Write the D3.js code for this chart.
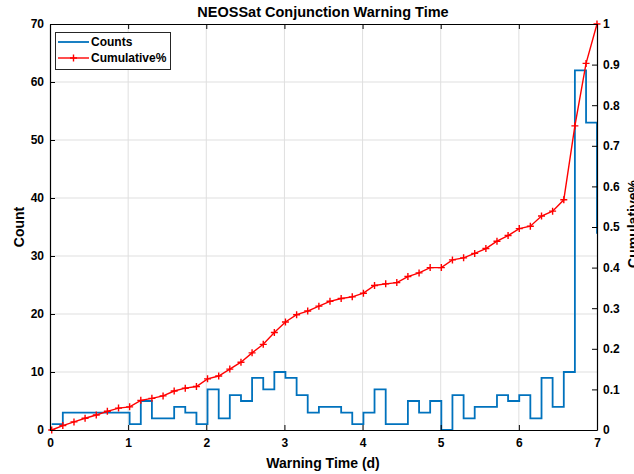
<!DOCTYPE html>
<html>
<head>
<meta charset="utf-8">
<script src="https://cdn.jsdelivr.net/npm/d3@7"></script>
<style>
  html, body { margin: 0; padding: 0; background: #fff; overflow: hidden; }
  svg { display: block; font-family: "Liberation Sans", Arial, sans-serif; }
</style>
</head>
<body>
<svg id="chart" width="634" height="474"></svg>
<script>
// ---- data ----
const title = "NEOSSat Conjunction Warning Time";
const xLabel = "Warning Time (d)";
const yLabelLeft = "Count";
const yLabelRight = "Cumulative%";
const seriesNames = ["Counts", "Cumulative%"];

// histogram bin edges (days)
const binEdges = [0.022,0.164,0.307,0.449,0.592,0.734,0.877,1.019,1.162,1.304,
                  1.447,1.589,1.731,1.874,2.016,2.159,2.301,2.444,2.586,2.729,
                  2.871,3.013,3.156,3.298,3.441,3.583,3.726,3.868,4.011,4.153,
                  4.296,4.438,4.580,4.723,4.865,5.008,5.150,5.293,5.435,5.578,
                  5.720,5.862,6.005,6.147,6.290,6.432,6.575,6.717,6.860,7.000,7.142];
// counts per bin (last bin lies beyond the axis and is clipped)
const counts = [1,3,3,3,3,3,3,1,5,2,2,4,3,1,7,2,6,5,9,7,10,9,6,3,4,4,3,1,3,7,
                1,1,5,3,5,0,6,2,4,4,6,5,6,2,9,4,10,62,53,34];
// cumulative fraction at each bin edge
const cumulative = [0.000,0.011,0.020,0.029,0.037,0.046,0.054,0.057,0.073,0.078,
                    0.084,0.096,0.103,0.107,0.126,0.133,0.150,0.167,0.190,0.211,
                    0.240,0.266,0.284,0.293,0.305,0.317,0.324,0.328,0.337,0.356,
                    0.360,0.363,0.378,0.387,0.400,0.400,0.419,0.424,0.435,0.447,
                    0.465,0.479,0.496,0.502,0.527,0.539,0.567,0.749,0.903,1.000];
const xTicks = [0,1,2,3,4,5,6,7];
const yTicksLeft = [0,10,20,30,40,50,60,70];
const yTicksRight = [0,0.1,0.2,0.3,0.4,0.5,0.6,0.7,0.8,0.9,1];

// ---- layout ----
const m = {left: 50, top: 24, right: 37, bottom: 44};
const W = 634, H = 474;
const iw = W - m.left - m.right;   // 547
const ih = H - m.top - m.bottom;   // 406
const blue = "#0072BD", red = "#FF0000";

const svg = d3.select("#chart");
const x = d3.scaleLinear().domain([0, 7]).range([m.left, m.left + iw]);
const yL = d3.scaleLinear().domain([0, 70]).range([m.top + ih, m.top]);
const yR = d3.scaleLinear().domain([0, 1]).range([m.top + ih, m.top]);

svg.append("defs").append("clipPath").attr("id", "clip")
  .append("rect").attr("x", m.left).attr("y", m.top - 4).attr("width", iw).attr("height", ih + 8);

// grid
const grid = svg.append("g").attr("stroke", "#dfdfdf").attr("stroke-width", 1);
xTicks.slice(1, -1).forEach(t => grid.append("line")
  .attr("x1", x(t)).attr("x2", x(t)).attr("y1", m.top).attr("y2", m.top + ih));
yTicksLeft.slice(1, -1).forEach(t => grid.append("line")
  .attr("x1", m.left).attr("x2", m.left + iw).attr("y1", yL(t)).attr("y2", yL(t)));

// histogram stairs
const stairPts = [];
counts.forEach((c, i) => {
  stairPts.push([binEdges[i], c]);
  stairPts.push([binEdges[i + 1], c]);
});
svg.append("path")
  .attr("clip-path", "url(#clip)")
  .attr("d", d3.line().x(d => x(d[0])).y(d => yL(d[1]))(stairPts))
  .attr("fill", "none").attr("stroke", blue).attr("stroke-width", 1.8);

// cumulative line
const cumPts = cumulative.map((v, i) => [binEdges[i], v]);
svg.append("path")
  .attr("d", d3.line().x(d => x(d[0])).y(d => yR(d[1]))(cumPts))
  .attr("fill", "none").attr("stroke", red).attr("stroke-width", 1.4);
const ms = 3.5;
svg.append("g").selectAll("path").data(cumPts).join("path")
  .attr("d", d => `M${x(d[0]) - ms},${yR(d[1])}H${x(d[0]) + ms}M${x(d[0])},${yR(d[1]) - ms}V${yR(d[1]) + ms}`)
  .attr("stroke", red).attr("stroke-width", 1.4);

// axes (box + inward ticks)
const tickLen = 5;
const fontTick = "bold 12px 'Liberation Sans', Arial, sans-serif";

const xAxisB = d3.axisBottom(x).tickValues(xTicks).tickSizeInner(-tickLen).tickSizeOuter(0).tickPadding(8).tickFormat(d3.format("d"));
const gxb = svg.append("g").attr("transform", `translate(0,${m.top + ih})`).call(xAxisB);
const xAxisT = d3.axisTop(x).tickValues(xTicks).tickSizeInner(-tickLen).tickSizeOuter(0).tickFormat("");
const gxt = svg.append("g").attr("transform", `translate(0,${m.top})`).call(xAxisT);
const yAxisL = d3.axisLeft(yL).tickValues(yTicksLeft).tickSizeInner(-tickLen).tickSizeOuter(0).tickPadding(6).tickFormat(d3.format("d"));
const gyl = svg.append("g").attr("transform", `translate(${m.left},0)`).call(yAxisL);
const yAxisR = d3.axisRight(yR).tickValues(yTicksRight).tickSizeInner(-tickLen).tickSizeOuter(0).tickPadding(6).tickFormat(d => d === 0 ? "0" : d === 1 ? "1" : d3.format(".1f")(d));
const gyr = svg.append("g").attr("transform", `translate(${m.left + iw},0)`).call(yAxisR);

[gxb, gxt, gyl, gyr].forEach(g => {
  g.select(".domain").attr("stroke", "#000").attr("stroke-width", 1.2);
  g.selectAll(".tick line").attr("stroke", "#000").attr("stroke-width", 1);
  g.selectAll(".tick text").attr("fill", "#000").style("font", fontTick);
});

// titles
svg.append("text").attr("x", 323).attr("y", 17).attr("text-anchor", "middle")
  .style("font", "bold 14.5px 'Liberation Sans', Arial, sans-serif").attr("fill", "#000").text(title);
svg.append("text").attr("x", 323).attr("y", 468).attr("text-anchor", "middle")
  .style("font", "bold 14px 'Liberation Sans', Arial, sans-serif").attr("fill", "#000").text(xLabel);
svg.append("text").attr("transform", `translate(24,${m.top + ih / 2}) rotate(-90)`).attr("text-anchor", "middle")
  .style("font", "bold 14px 'Liberation Sans', Arial, sans-serif").attr("fill", "#000").text(yLabelLeft);
svg.append("text").attr("transform", `translate(638,${m.top + ih / 2 - 3}) rotate(-90)`).attr("text-anchor", "middle")
  .style("font", "bold 14px 'Liberation Sans', Arial, sans-serif").attr("fill", "#000").text(yLabelRight);

// legend
const lg = svg.append("g");
lg.append("rect").attr("x", 55.5).attr("y", 32.5).attr("width", 115).attr("height", 37)
  .attr("fill", "#fff").attr("stroke", "#262626").attr("stroke-width", 1);
lg.append("line").attr("x1", 58).attr("x2", 89).attr("y1", 42).attr("y2", 42)
  .attr("stroke", blue).attr("stroke-width", 1.8);
lg.append("line").attr("x1", 58).attr("x2", 89).attr("y1", 58).attr("y2", 58)
  .attr("stroke", red).attr("stroke-width", 1.4);
lg.append("path").attr("d", `M${73.5 - ms},58H${73.5 + ms}M73.5,${58 - ms}V${58 + ms}`)
  .attr("stroke", red).attr("stroke-width", 1.4);
lg.selectAll("text.lt").data(seriesNames).join("text").attr("class", "lt")
  .attr("x", 91).attr("y", (d, i) => 46 + i * 16)
  .style("font", "bold 12px 'Liberation Sans', Arial, sans-serif").attr("fill", "#000").text(d => d);
</script>
</body>
</html>
